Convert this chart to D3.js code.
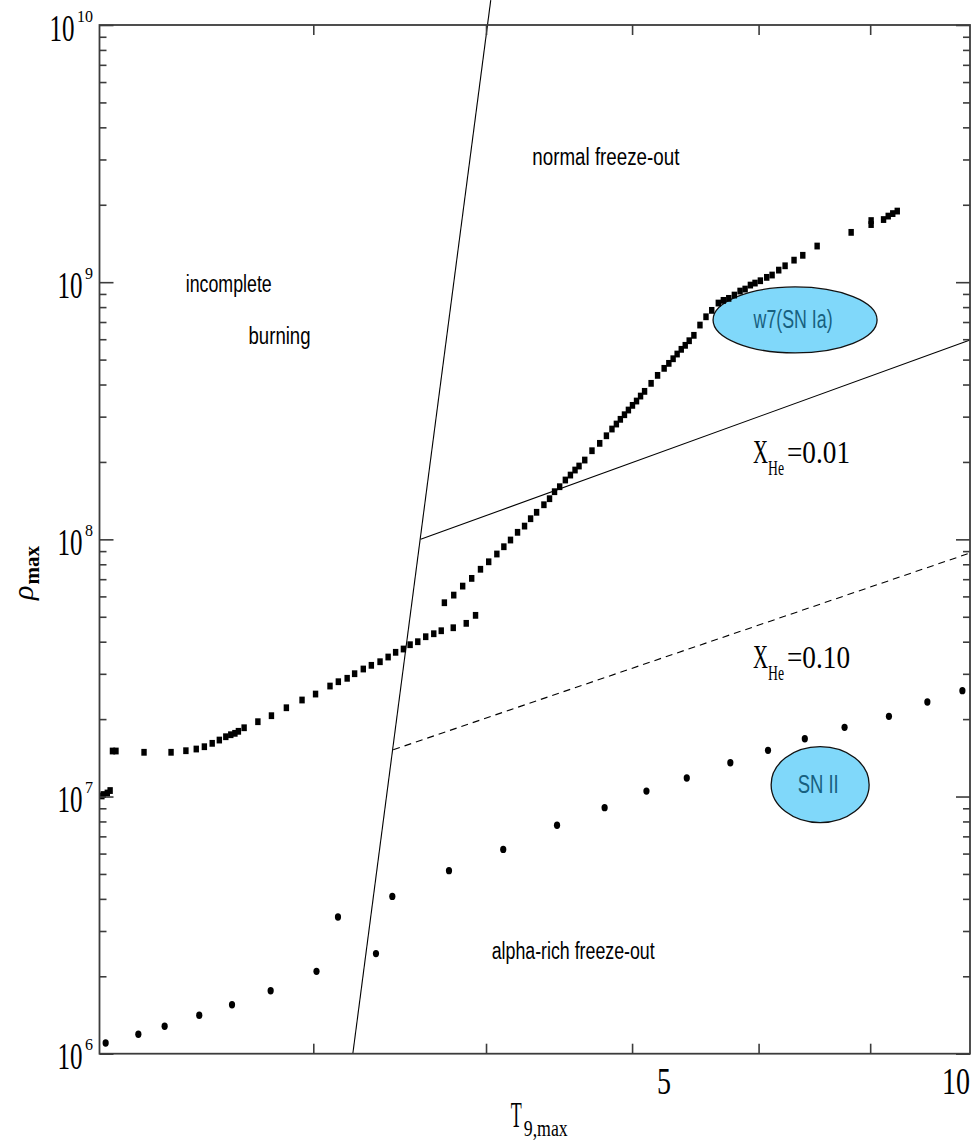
<!DOCTYPE html>
<html><head><meta charset="utf-8">
<script src="https://cdn.jsdelivr.net/npm/d3@7"></script>
<style>body{margin:0;background:#fff;} svg{display:block;}</style>
</head><body>
<svg id="c" width="971" height="1142"></svg>
<script>
// ---------------- DATA ----------------
// lower branch of squares (T9,max , rho_max)
const lowerT = [4.00,4.006,4.023,4.035,4.045,4.06,4.182,4.303,4.371,4.419,4.457,4.494,4.528,4.559,4.583,4.603,4.620,4.648,4.716,4.784,4.860,4.941,5.012,5.089,5.134,5.182,5.223,5.271,5.316,5.365,5.411,5.454,5.499,5.538,5.583,5.630,5.678,5.723,5.796,5.876,5.934];
const lowerRho = [1.005e7,1.018e7,1.032e7,1.055e7,1.503e7,1.503e7,1.486e7,1.486e7,1.507e7,1.530e7,1.562e7,1.610e7,1.658e7,1.708e7,1.739e7,1.761e7,1.793e7,1.851e7,1.954e7,2.062e7,2.214e7,2.373e7,2.503e7,2.689e7,2.795e7,2.882e7,3.003e7,3.132e7,3.237e7,3.343e7,3.487e7,3.637e7,3.746e7,3.893e7,3.999e7,4.182e7,4.295e7,4.412e7,4.532e7,4.714e7,5.064e7];
// upper branch of squares
const upperT = [5.742,5.799,5.854,5.910,5.965,6.017,6.069,6.114,6.157,6.203,6.249,6.289,6.329,6.378,6.416,6.450,6.485,6.524,6.559,6.591,6.619,6.659,6.710,6.765,6.813,6.853,6.885,6.914,6.944,6.973,7.003,7.033,7.063,7.093,7.142,7.191,7.241,7.277,7.310,7.341,7.373,7.404,7.435,7.472,7.520,7.568,7.614,7.667,7.708,7.752,7.798,7.845,7.887,7.931,7.970,8.015,8.069,8.115,8.172,8.227,8.305,8.382,8.510,8.821,9.009,9.009,9.128,9.173,9.217,9.261];
const upperRho = [5.67e7,6.07e7,6.58e7,7.05e7,7.65e7,8.18e7,8.77e7,9.36e7,9.94e7,1.065e8,1.126e8,1.203e8,1.274e8,1.363e8,1.439e8,1.532e8,1.602e8,1.701e8,1.778e8,1.860e8,1.928e8,2.034e8,2.211e8,2.362e8,2.528e8,2.685e8,2.808e8,2.929e8,3.052e8,3.183e8,3.319e8,3.450e8,3.607e8,3.762e8,4.042e8,4.341e8,4.623e8,4.834e8,5.038e8,5.255e8,5.481e8,5.681e8,5.920e8,6.213e8,6.812e8,7.336e8,7.769e8,8.295e8,8.496e8,8.650e8,8.910e8,9.235e8,9.402e8,9.743e8,9.920e8,1.013e9,1.044e9,1.066e9,1.114e9,1.158e9,1.218e9,1.272e9,1.382e9,1.562e9,1.736e9,1.675e9,1.752e9,1.807e9,1.848e9,1.890e9];
// circles (SN II sequence)
const circT = [4.016,4.157,4.274,4.433,4.589,4.78,5.017,5.132,5.342,5.435,5.77,6.11,6.467,6.80,7.107,7.416,7.765,8.08,8.40,8.76,9.18,9.56,9.92];
const circRho = [1.10e6,1.19e6,1.278e6,1.41e6,1.55e6,1.758e6,2.09e6,3.40e6,2.45e6,4.09e6,5.15e6,6.23e6,7.73e6,9.05e6,1.05e7,1.18e7,1.353e7,1.512e7,1.677e7,1.858e7,2.05e7,2.33e7,2.58e7];
// boundary lines
const boundaryT = [5.213, 6.03], boundaryRho = [1e6, 1.25e10];
const xhe01T = [5.6, 10], xhe01Rho = [1.0e8, 5.96e8];
const xhe10T = [5.44, 10], xhe10Rho = [1.52e7, 8.85e7];
// ticks
const yMajorTicks = [1e6, 1e7, 1e8, 1e9, 1e10];
const yTickExp = ["6", "7", "8", "9", "10"];
const xMinorTicks = [5, 6, 7, 8, 9];
const xTickLabels = ["5", "10"];
const xTickLabelAt = [7.24, 10];
// annotations (text, T, rho)
const regionLabels = ["normal freeze-out", "incomplete", "burning", "alpha-rich freeze-out"];
const regionT = [6.809, 4.573, 4.825, 6.578];
const regionRho = [2.853e9, 9.152e8, 5.747e8, 2.334e6];
const ovalLabels = ["w7(SN Ia)", "SN II"];
const ovalT = [8.314, 8.537];
const ovalRho = [7.13e8, 1.112e7];
const xheLabels = ["0.01", "0.10"];
const xheT = [7.953, 7.953];
const xheRho = [1.98e8, 3.16e7];

// ---------------- DRAW ----------------
const W = 971, H = 1142;
const x = d3.scaleLog().domain([3.99, 10]).range([99.5, 970]);
const y = d3.scaleLog().domain([1e6, 1e10]).range([1053.7, 25]);
const svg = d3.select('#c');
svg.append('rect').attr('width', W).attr('height', H).attr('fill', '#fff');

function sText(parent, str, px, py, o) {
  const g = parent.append('g').attr('transform', `translate(${px},${py}) scale(1,${o.sy || 1})`);
  const t = g.append('text').attr('x', 0).attr('y', 0).text(str)
    .attr('font-family', o.family || 'Liberation Serif')
    .attr('font-size', o.size)
    .attr('text-anchor', o.anchor || 'start')
    .attr('fill', o.fill || '#000');
  if (o.weight) t.attr('font-weight', o.weight);
  if (o.style) t.attr('font-style', o.style);
  if (o.width) t.attr('textLength', o.width).attr('lengthAdjust', 'spacingAndGlyphs');
  return t;
}

const line = d3.line().x(d => x(d[0])).y(d => y(d[1]));
svg.append('path').datum(d3.zip(boundaryT, boundaryRho)).attr('d', line)
  .attr('fill', 'none').attr('stroke', '#000').attr('stroke-width', 1.1);
svg.append('path').datum(d3.zip(xhe01T, xhe01Rho)).attr('d', line)
  .attr('fill', 'none').attr('stroke', '#000').attr('stroke-width', 1.1);
svg.append('path').datum(d3.zip(xhe10T, xhe10Rho)).attr('d', line)
  .attr('fill', 'none').attr('stroke', '#000').attr('stroke-width', 1.1).attr('stroke-dasharray', '7,5');

// ovals
const ovalR = [[82, 33], [49, 38]];
ovalLabels.forEach((lab, i) => {
  svg.append('ellipse').attr('cx', x(ovalT[i])).attr('cy', y(ovalRho[i]))
    .attr('rx', ovalR[i][0]).attr('ry', ovalR[i][1])
    .attr('fill', '#80d8fa').attr('stroke', '#111').attr('stroke-width', 1.3);
});

// squares
const sq = d3.zip(lowerT, lowerRho).concat(d3.zip(upperT, upperRho));
svg.append('g').selectAll('rect').data(sq).join('rect')
  .attr('x', d => x(d[0]) - 2.7).attr('y', d => y(d[1]) - 3.4)
  .attr('width', 5.4).attr('height', 6.8).attr('fill', '#000');
// circles
svg.append('g').selectAll('ellipse').data(d3.zip(circT, circRho)).join('ellipse')
  .attr('cx', d => x(d[0])).attr('cy', d => y(d[1]))
  .attr('rx', 3.1).attr('ry', 3.7).attr('fill', '#000');

// oval texts
const ovalTextW = [79, 41];
ovalLabels.forEach((lab, i) => {
  sText(svg, lab, x(ovalT[i]) - 2, y(ovalRho[i]) + 8, {family: 'Liberation Sans', size: 22, anchor: 'middle', width: ovalTextW[i], fill: '#17607f', sy: 1.15});
});

// region labels
const regionW = [147, 86, 62, 163];
regionLabels.forEach((lab, i) => {
  sText(svg, lab, x(regionT[i]), y(regionRho[i]), {family: 'Liberation Sans', size: 21, anchor: 'middle', width: regionW[i], sy: 1.12});
});

// X_He labels
xheLabels.forEach((lab, i) => {
  const px = x(xheT[i]), py = y(xheRho[i]);
  sText(svg, 'X', px, py, {size: 24, width: 15, sy: 1.4});
  sText(svg, 'He', px + 15, py + 12, {size: 17, width: 16, sy: 1.25});
  sText(svg, '=' + lab, px + 34, py, {size: 27, width: 63, sy: 1.15});
});

// frame
const axisColor = '#3c3c3c';
const [x0, x1] = x.range(), [yb, yt] = y.range();
svg.append('rect').attr('x', x0).attr('y', yt).attr('width', x1 - x0).attr('height', yb - yt)
  .attr('fill', 'none').attr('stroke', axisColor).attr('stroke-width', 1.8);

const yMinor = [];
yMajorTicks.slice(0, -1).forEach(v => { for (let k = 2; k <= 9; k++) yMinor.push(v * k); });

function styleAxis(g) {
  g.select('.domain').remove();
  g.selectAll('line').attr('stroke', axisColor).attr('stroke-width', 1.6);
}
svg.append('g').attr('transform', `translate(${x0},0)`)
  .call(d3.axisLeft(y).tickValues(yMinor).tickSizeInner(-7).tickSizeOuter(0).tickFormat('')).call(styleAxis);
svg.append('g').attr('transform', `translate(${x0},0)`)
  .call(d3.axisLeft(y).tickValues(yMajorTicks).tickSizeInner(-14).tickSizeOuter(0).tickFormat('')).call(styleAxis);
svg.append('g').attr('transform', `translate(${x1},0)`)
  .call(d3.axisRight(y).tickValues(yMinor).tickSizeInner(-7).tickSizeOuter(0).tickFormat('')).call(styleAxis);
svg.append('g').attr('transform', `translate(${x1},0)`)
  .call(d3.axisRight(y).tickValues(yMajorTicks).tickSizeInner(-14).tickSizeOuter(0).tickFormat('')).call(styleAxis);
svg.append('g').attr('transform', `translate(0,${yb})`)
  .call(d3.axisBottom(x).tickValues(xMinorTicks).tickSizeInner(-10).tickSizeOuter(0).tickFormat('')).call(styleAxis);
svg.append('g').attr('transform', `translate(0,${yt})`)
  .call(d3.axisTop(x).tickValues(xMinorTicks).tickSizeInner(-10).tickSizeOuter(0).tickFormat('')).call(styleAxis);

// y tick labels
yMajorTicks.forEach((v, i) => {
  const ty = y(v);
  const sup = sText(svg, yTickExp[i], 93, ty - 3.5, {size: 16, anchor: 'end'});
  const w = sup.node().getComputedTextLength();
  sText(svg, '10', 93 - w - 2.5, ty + 15.5, {size: 25, anchor: 'end', sy: 1.5, width: 25});
});

// x tick labels (last one kept inside the picture)
xTickLabels.forEach((lab, i) => {
  const px = Math.min(x(xTickLabelAt[i]), W - 1 - lab.length * 7);
  sText(svg, lab, px, 1094, {size: 28, anchor: 'middle', sy: 1.35, width: lab.length * 14});
});

// axis titles
const cx = (x0 + x1) / 2;
sText(svg, 'T', cx - 24, 1127, {size: 20, sy: 1.75, width: 11});
sText(svg, '9,max', cx - 11, 1136, {size: 18, sy: 1.25, width: 44});

const yl = svg.append('g').attr('transform', 'translate(33,600) rotate(-90)');
const ylt = yl.append('text').attr('font-family', 'Liberation Serif').attr('fill', '#000');
ylt.append('tspan').attr('font-size', 30).attr('font-style', 'italic').text('ρ');
ylt.append('tspan').attr('font-size', 21).attr('font-weight', 'bold').attr('dy', 6).attr('dx', 1).text('max');
</script>
</body></html>
